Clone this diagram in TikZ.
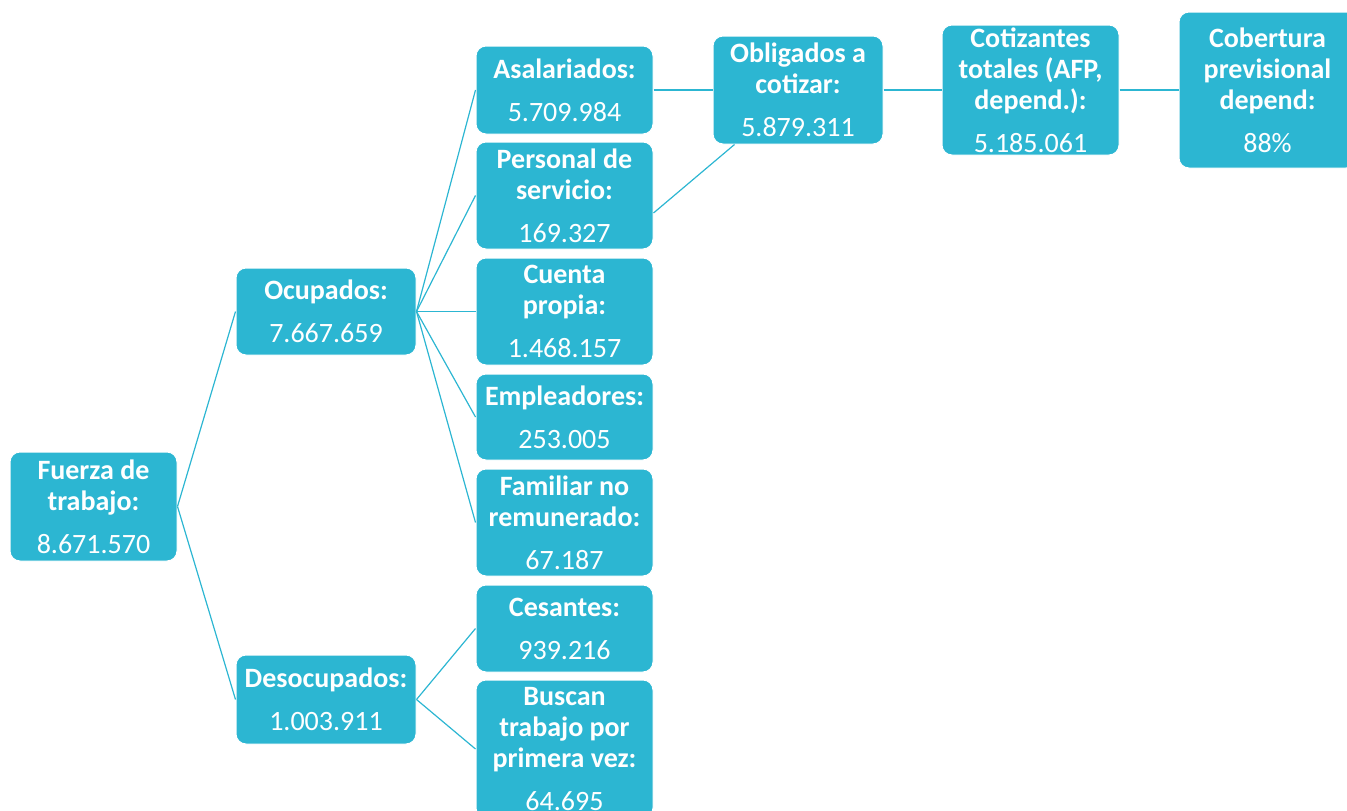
\documentclass[tikz,border=0pt]{standalone}
\usepackage{fontspec}
\setmainfont{Carlito}
\definecolor{smartblue}{RGB}{44,182,210}

\begin{document}
\begin{tikzpicture}[x=1pt, y=-1pt,
    box/.style 2 args={rectangle, rounded corners=10pt, fill=smartblue, draw=white,
      line width=1pt, text=white, align=center, inner sep=0pt,
      minimum width=#1pt, minimum height=#2pt,
      font=\fontsize{28}{31}\selectfont\bfseries},
    link/.style={smartblue, line width=1.2pt}]
    \useasboundingbox (0, 0) rectangle (1347, 811);
    \clip (0, 0) rectangle (1347, 811);

    % first level
    \node[box={167}{109}] (fuerza) at (93.5, 506.5) {Fuerza de\\trabajo:\\[12pt]\mdseries 8.671.570};
    \node[box={180}{87}] (ocup) at (326, 311.5) {Ocupados:\\[12pt]\mdseries 7.667.659};
    \node[box={180}{89}] (desoc) at (326, 699.5) {Desocupados:\\[12pt]\mdseries 1.003.911};

    % ocupados
    \node[box={177}{88}] (asal) at (564.5, 90) {Asalariados:\\[12pt]\mdseries 5.709.984};
    \node[box={177}{107}] (pers) at (564.5, 195.5) {Personal de\\servicio:\\[12pt]\mdseries 169.327};
    \node[box={177}{107}] (cuenta) at (564.5, 311.5) {Cuenta\\propia:\\[12pt]\mdseries 1.468.157};
    \node[box={177}{86}] (empl) at (564.5, 417) {Empleadores:\\[12pt]\mdseries 253.005};
    \node[box={177}{107}] (famil) at (564.5, 522.5) {Familiar no\\remunerado:\\[12pt]\mdseries 67.187};

    % desocupados
    \node[box={177}{87}] (cesan) at (564.5, 628.5) {Cesantes:\\[12pt]\mdseries 939.216};
    \node[box={177}{138}] (buscan) at (564.5, 749) {Buscan\\trabajo por\\primera vez:\\[12pt]\mdseries 64.695};

    % cotizacion
    \node[box={170}{108}] (oblig) at (798, 90) {Obligados a\\cotizar:\\[12pt]\mdseries 5.879.311};
    \node[box={177}{130}] (cotiz) at (1030.5, 90) {Cotizantes\\totales (AFP,\\depend.):\\[12pt]\mdseries 5.185.061};
    \node[box={177}{156}] (cobert) at (1267.5, 90) {Cobertura\\previsional\\depend:\\[12pt]\mdseries 88\%};

    \draw[link] (fuerza.east) -- (ocup.west);
    \draw[link] (fuerza.east) -- (desoc.west);
    \foreach \n in {asal, pers, cuenta, empl, famil}
      \draw[link] (ocup.east) -- (\n.west);
    \foreach \n in {cesan, buscan}
      \draw[link] (desoc.east) -- (\n.west);
    \draw[link] (asal.east) -- (oblig.west);
    \draw[link] ([yshift=-17.5pt]pers.east) -- ([xshift=22pt]oblig.south west);
    \draw[link] (oblig.east) -- (cotiz.west);
    \draw[link] (cotiz.east) -- (cobert.west);
  \end{tikzpicture}
\end{document}
